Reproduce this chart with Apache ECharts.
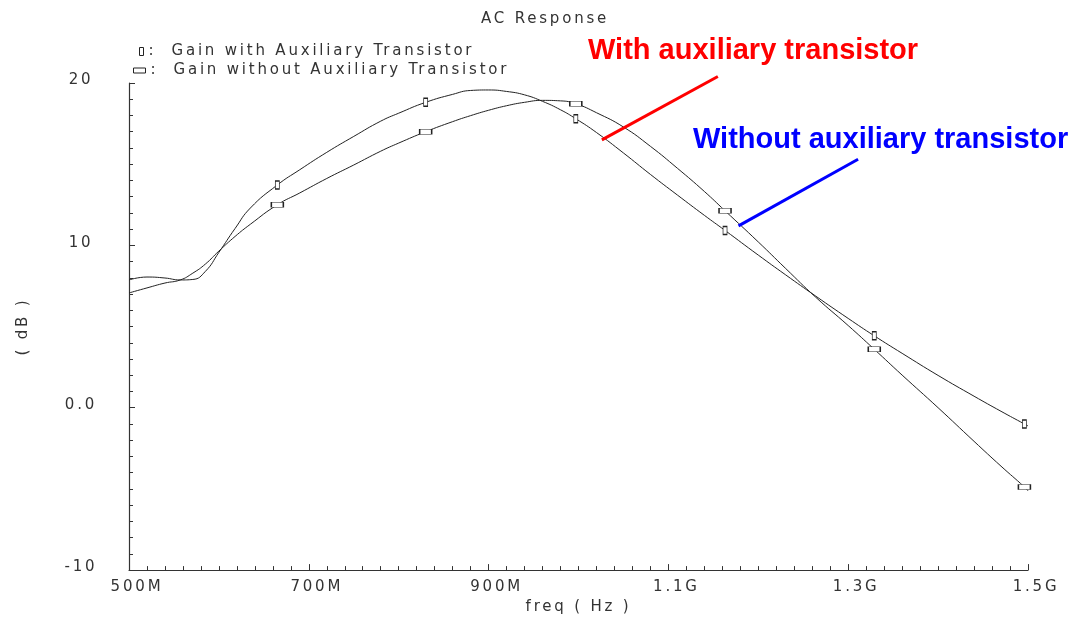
<!DOCTYPE html>
<html><head><meta charset="utf-8">
<script src="https://cdn.jsdelivr.net/npm/echarts@6/dist/echarts.min.js"></script>
<style>html,body{margin:0;padding:0;background:#fff}#c{width:1075px;height:620px}</style>
</head><body><div id="c"></div>
<script>
// ---- data (frequency in MHz, gain in dB) ----
const freqs = [500,520,540,557,571,585,600,618,635,665,690,720,750,780,800,830,860,880,900,920,940,960,980,997,1020,1050,1080,1110,1140,1163,1200,1230,1264,1300,1329,1360,1400,1440,1470,1496,1500];
const gainWith = [7.87,8.05,7.99,7.87,7.9,8.4,9.57,11.04,12.3,13.72,14.66,15.73,16.71,17.65,18.14,18.81,19.3,19.54,19.57,19.48,19.27,18.87,18.35,17.8,16.95,15.69,14.37,13.1,11.85,10.92,9.4,8.2,6.87,5.5,4.43,3.35,1.99,0.71,-0.22,-1.0,-1.12];
const gainWithout = [7.07,7.38,7.68,7.87,8.29,8.85,9.65,10.55,11.3,12.5,13.23,14.12,14.95,15.8,16.3,17.0,17.62,17.99,18.32,18.6,18.81,18.93,18.9,18.72,18.17,17.29,16.1,14.75,13.32,12.13,10.21,8.6,6.8,5.06,3.6,2.01,0.0,-2.07,-3.6,-4.88,-5.12];
const markerFreqs = [665,830,997,1163,1329,1496];
const xTicks = [500,700,900,1100,1300,1500];
const xTickLabels = ['500M','700M','900M','1.1G','1.3G','1.5G'];
const yTicks = [-10,0,10,20];
const yTickLabels = ['-10','0.0','10','20'];
const seriesNames = ['Gain with Auxiliary Transistor','Gain without Auxiliary Transistor'];
const annotations = [
  {text:'With auxiliary transistor', color:'#ff0000', tip:[1026,16.5], end:[1155,20.4]},
  {text:'Without auxiliary transistor', color:'#0000ff', tip:[1178,11.2], end:[1311,15.3]}
];

// wide spacing for the plotter-style font
(function(){
  const P = CanvasRenderingContext2D.prototype;
  const orig = P.fillText;
  P.fillText = function(t,x,y,m){
    this.letterSpacing = /DejaVu/.test(this.font) ? '2.8px' : '0px';
    return m === undefined ? orig.call(this,t,x,y) : orig.call(this,t,x,y,m);
  };
})();

const FONT = 'DejaVu Sans';
const TXT = '#333';
const chart = echarts.init(document.getElementById('c'), null, {renderer:'canvas'});

function build(vals, sym, size){
  return freqs.map((f,i) => markerFreqs.includes(f)
    ? {value:[f, vals[i]], symbol:sym, symbolSize:size}
    : {value:[f, vals[i]], symbol:'none'});
}
const markerStyle = {color:'#fff', borderColor:'#222', borderWidth:1};
const legendBase = {
  orient:'horizontal', icon:'rect', selectedMode:false, padding:0,
  itemStyle:markerStyle,
  formatter: n => ':  ' + n,
  textStyle:{fontFamily:FONT, fontSize:15, color:TXT}
};

chart.setOption({
  animation:false,
  backgroundColor:'#fff',
  title:{text:'AC Response', left:481, top:12, padding:0,
    textStyle:{fontFamily:FONT, fontSize:15, fontWeight:'normal', color:TXT}},
  legend:[
    Object.assign({}, legendBase, {data:[seriesNames[0]], left:139, top:44, itemWidth:4, itemHeight:8}),
    Object.assign({}, legendBase, {data:[seriesNames[1]], left:133, top:63, itemWidth:12, itemHeight:5})
  ],
  grid:{left:129, right:47, top:83, bottom:44},
  xAxis:{
    type:'value', min:500, max:1500, interval:200,
    name:'freq ( Hz )', nameLocation:'middle', nameGap:25,
    nameTextStyle:{fontFamily:FONT, fontSize:15, color:TXT},
    axisLine:{onZero:false, lineStyle:{color:'#333', width:1.2}},
    axisTick:{inside:true, length:6, lineStyle:{color:'#333'}},
    minorTick:{show:true, splitNumber:10, length:4, lineStyle:{color:'#333'}},
    splitLine:{show:false},
    axisLabel:{showMinLabel:true, showMaxLabel:true, margin:10, padding:[0,0,0,16],
      fontFamily:FONT, fontSize:15, color:TXT,
      formatter: v => { const i = xTicks.indexOf(v); return i < 0 ? '' : xTickLabels[i]; }}
  },
  yAxis:{
    type:'value', min:-10, max:20, interval:10,
    name:'( dB )', nameLocation:'middle', nameRotate:90, nameGap:98,
    nameTextStyle:{fontFamily:FONT, fontSize:15, color:TXT},
    axisLine:{show:true, onZero:false, lineStyle:{color:'#333', width:1.2}},
    axisTick:{show:true, inside:true, length:6, lineStyle:{color:'#333'}},
    minorTick:{show:true, splitNumber:10, length:4, lineStyle:{color:'#333'}},
    splitLine:{show:false},
    axisLabel:{showMinLabel:true, showMaxLabel:true, margin:48, align:'center',
      verticalAlign:'bottom', lineHeight:5,
      fontFamily:FONT, fontSize:15, color:TXT,
      formatter: v => { const i = yTicks.indexOf(v); return i < 0 ? '' : yTickLabels[i]; }}
  },
  series:[
    {type:'line', name:seriesNames[0], data:build(gainWith,'rect',[4,8]),
      smooth:0.5, showAllSymbol:true, symbol:'none', z:3,
      lineStyle:{color:'#222', width:1}, itemStyle:markerStyle, emphasis:{disabled:true}},
    {type:'line', name:seriesNames[1], data:build(gainWithout,'rect',[12,5]),
      smooth:0.5, showAllSymbol:true, symbol:'none', z:3,
      lineStyle:{color:'#222', width:1}, itemStyle:markerStyle, emphasis:{disabled:true}}
  ]
});

// annotation arrows anchored in data space
const g = [];
annotations.forEach(a => {
  const p1 = chart.convertToPixel({gridIndex:0}, a.tip);
  const p2 = chart.convertToPixel({gridIndex:0}, a.end);
  g.push({type:'line', shape:{x1:p1[0], y1:p1[1], x2:p2[0], y2:p2[1]},
    style:{stroke:a.color, lineWidth:3}, z:10});
});
g.push({type:'text', left:588, top:36, z:10,
  style:{text:annotations[0].text, fill:annotations[0].color, font:'bold 29px "Liberation Sans"'}});
g.push({type:'text', left:693, top:125, z:10,
  style:{text:annotations[1].text, fill:annotations[1].color, font:'bold 29px "Liberation Sans"'}});
chart.setOption({graphic:g});
</script>
</body></html>
